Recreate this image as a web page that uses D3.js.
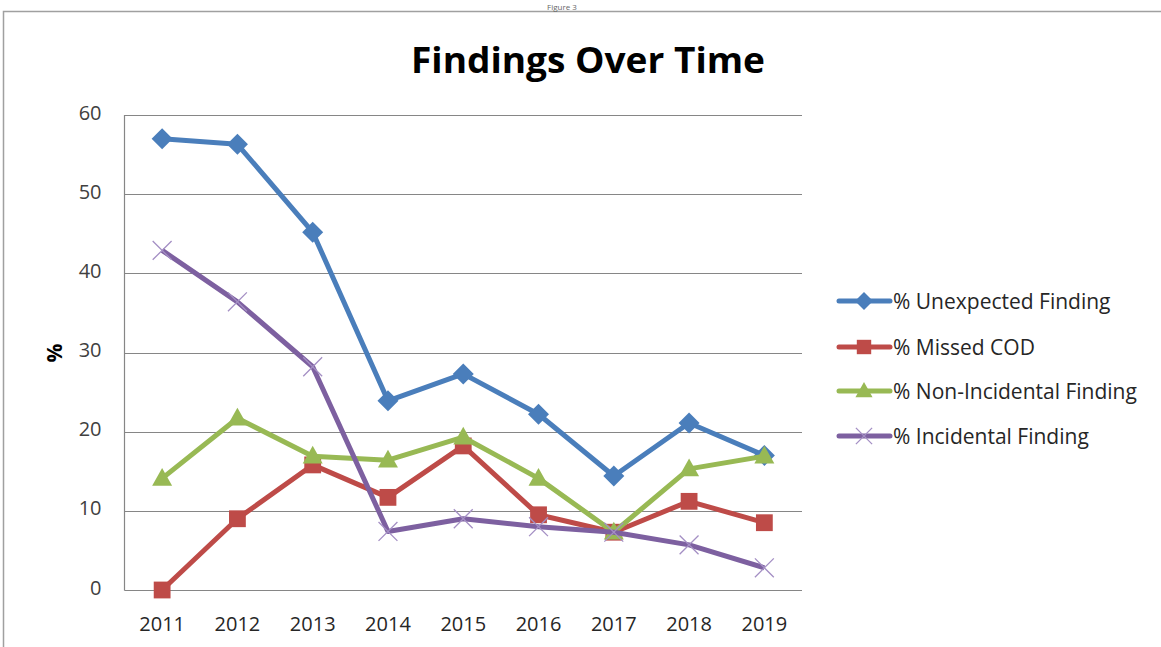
<!DOCTYPE html>
<html>
<head>
<meta charset="utf-8">
<script src="https://cdn.jsdelivr.net/npm/d3@7"></script>
<style>
  body { margin: 0; background: #fff; }
  svg text { font-family: 'Open Sans', 'Noto Sans', sans-serif; }
</style>
</head>
<body>
<div id="chart"></div>
<script>
'use strict';

const years = ['2011', '2012', '2013', '2014', '2015', '2016', '2017', '2018', '2019'];
const unexpected = [57.0, 56.3, 45.2, 23.9, 27.3, 22.2, 14.4, 21.1, 17.0];
const missedCod = [0, 9.0, 15.8, 11.7, 18.2, 9.5, 7.3, 11.2, 8.5];
const nonIncidental = [14.1, 21.7, 16.9, 16.4, 19.3, 14.1, 7.3, 15.3, 16.9];
const incidental = [42.9, 36.4, 28.2, 7.4, 9.0, 8.0, 7.3, 5.7, 2.8];
const yTicks = [0, 10, 20, 30, 40, 50, 60];

const series = [
  { name: '% Unexpected Finding', values: unexpected, color: '#4A7EBB', marker: 'diamond' },
  { name: '% Missed COD', values: missedCod, color: '#BE4B48', marker: 'square' },
  { name: '% Non-Incidental Finding', values: nonIncidental, color: '#98B954', marker: 'triangle' },
  { name: '% Incidental Finding', values: incidental, color: '#7D60A0', marker: 'cross' }
];

const W = 1161, H = 647;
const plot = { left: 124.5, right: 802, top: 115, bottom: 590 };

const svg = d3.select('#chart').append('svg')
  .attr('width', W)
  .attr('height', H);

// outer frame (runs off the right and bottom edges)
svg.append('rect')
  .attr('x', 3.5).attr('y', 11.5)
  .attr('width', W + 20).attr('height', H + 20)
  .attr('fill', 'none')
  .attr('stroke', '#a0a0a0')
  .attr('stroke-width', 1.5);

// small caption above the frame
svg.append('text')
  .attr('x', 562).attr('y', 10)
  .attr('text-anchor', 'middle')
  .attr('font-size', 8)
  .attr('fill', '#666')
  .text('Figure 3');

svg.append('text')
  .attr('x', 588).attr('y', 73)
  .attr('text-anchor', 'middle')
  .attr('font-size', 35)
  .attr('font-weight', 'bold')
  .attr('textLength', 354)
  .attr('lengthAdjust', 'spacingAndGlyphs')
  .attr('fill', '#000')
  .text('Findings Over Time');

const x = d3.scaleBand()
  .domain(years)
  .range([plot.left, plot.right]);

const y = d3.scaleLinear()
  .domain([0, 60])
  .range([plot.bottom, plot.top]);

// gridlines
svg.append('g')
  .selectAll('line')
  .data(yTicks)
  .enter().append('line')
    .attr('x1', plot.left).attr('x2', plot.right)
    .attr('y1', d => Math.round(y(d)) + 0.5)
    .attr('y2', d => Math.round(y(d)) + 0.5)
    .attr('stroke', '#868686')
    .attr('stroke-width', 1.2);

// left axis line
svg.append('line')
  .attr('x1', plot.left).attr('x2', plot.left)
  .attr('y1', plot.top).attr('y2', plot.bottom + 0.5)
  .attr('stroke', '#868686')
  .attr('stroke-width', 1.2);

const yAxis = svg.append('g')
  .attr('transform', 'translate(' + (plot.left - 23) + ',0)')
  .call(d3.axisLeft(y).tickValues(yTicks).tickSize(0).tickPadding(0));
yAxis.select('.domain').remove();
yAxis.selectAll('text')
  .attr('font-size', 20)
  .attr('fill', '#404040')
  .attr('dy', '0.2em');

const xAxis = svg.append('g')
  .attr('transform', 'translate(0,' + plot.bottom + ')')
  .call(d3.axisBottom(x).tickSize(0).tickPadding(0));
xAxis.select('.domain').remove();
xAxis.selectAll('text')
  .attr('font-size', 20)
  .attr('fill', '#262626')
  .attr('y', 41)
  .attr('dy', 0);

svg.append('text')
  .attr('transform', 'translate(62,353) rotate(-90)')
  .attr('text-anchor', 'middle')
  .attr('font-size', 21)
  .attr('font-weight', 'bold')
  .attr('fill', '#000')
  .text('%');

function drawMarker(g, type, color, cx, cy, s) {
  if (type === 'diamond') {
    g.append('path')
      .attr('d', 'M' + cx + ',' + (cy - s) + 'L' + (cx + s) + ',' + cy + 'L' + cx + ',' + (cy + s) + 'L' + (cx - s) + ',' + cy + 'Z')
      .attr('fill', color);
  } else if (type === 'square') {
    g.append('rect')
      .attr('x', cx - s * 0.8).attr('y', cy - s * 0.8)
      .attr('width', s * 1.6).attr('height', s * 1.6)
      .attr('fill', color);
  } else if (type === 'triangle') {
    g.append('path')
      .attr('d', 'M' + cx + ',' + (cy - s) + 'L' + (cx + s * 0.95) + ',' + (cy + s * 0.7) + 'L' + (cx - s * 0.95) + ',' + (cy + s * 0.7) + 'Z')
      .attr('fill', color);
  } else {
    const c = s * 0.9;
    g.append('path')
      .attr('d', 'M' + (cx - c) + ',' + (cy - c) + 'L' + (cx + c) + ',' + (cy + c) + 'M' + (cx + c) + ',' + (cy - c) + 'L' + (cx - c) + ',' + (cy + c))
      .attr('stroke', '#a48fc4')
      .attr('stroke-width', 1.3)
      .attr('fill', 'none');
  }
}

const line = d3.line()
  .x((d, i) => x(years[i]) + x.bandwidth() / 2)
  .y(d => y(d));

series.forEach(function (s) {
  const g = svg.append('g');
  g.append('path')
    .datum(s.values)
    .attr('d', line)
    .attr('fill', 'none')
    .attr('stroke', s.color)
    .attr('stroke-width', 5)
    .attr('stroke-linejoin', 'round');
  s.values.forEach(function (v, i) {
    drawMarker(g, s.marker, s.color, x(years[i]) + x.bandwidth() / 2, y(v), 10.5);
  });
});

// legend
const legendY = [301, 347, 391, 436];
series.forEach(function (s, i) {
  const g = svg.append('g');
  g.append('line')
    .attr('x1', 839).attr('x2', 890)
    .attr('y1', legendY[i]).attr('y2', legendY[i])
    .attr('stroke', s.color)
    .attr('stroke-width', 5)
    .attr('stroke-linecap', 'round');
  drawMarker(g, s.marker, s.color, 864, legendY[i], 9);
  g.append('text')
    .attr('x', 893).attr('y', legendY[i])
    .attr('dy', '0.36em')
    .attr('font-size', 21)
    .attr('fill', '#262626')
    .text(s.name);
});
</script>
</body>
</html>
